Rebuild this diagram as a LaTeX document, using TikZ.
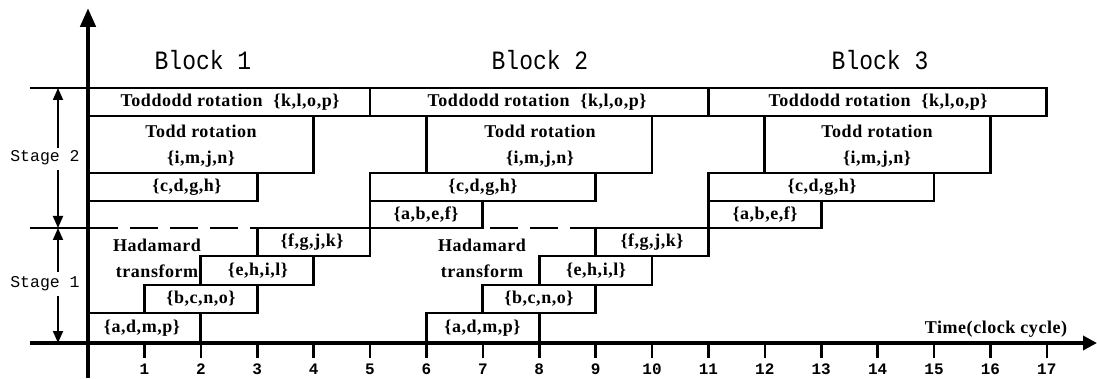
\documentclass[tikz,border=0pt]{standalone}
\usepackage{fontspec}
\setmainfont{Liberation Serif}
\newfontfamily\boxf{Liberation Serif}[LetterSpace=3]
\newfontfamily\monof{Liberation Mono}
\usetikzlibrary{arrows.meta}
\newcommand\tx[1]{(88+56.4*#1)}
\begin{document}
\begin{tikzpicture}[x=1pt,y=-1pt,
  box/.style={line width=2.8pt},
  thinline/.style={line width=2.4pt},
  dashline/.style={line width=2.6pt, dash pattern=on 28pt off 12pt},
  axis/.style={line width=4.5pt},
  tick/.style={line width=2.6pt},
  lbl/.style={inner sep=0pt, font=\boxf\bfseries\fontsize{18}{26}\selectfont, align=center},
  blk/.style={inner sep=0pt, font=\monof\fontsize{23}{23}\selectfont, yscale=1.15},
  stg/.style={inner sep=0pt, font=\monof\fontsize{16.5}{16.5}\selectfont},
  num/.style={inner sep=0pt, font=\monof\bfseries\fontsize{16}{16}\selectfont},
  sarr/.style={line width=1.8pt, -{Triangle[length=12pt,width=10pt]}}]
\useasboundingbox (0,0) rectangle (1097,379);

% guide lines
\draw[thinline] (30,88) -- ({\tx{0}},88);
\draw[thinline] (30,228) -- ({\tx{0}},228);
\draw[dashline] ({\tx{0}+2},228) -- ({\tx{11}},228);

% Block 1 - stage 2
\draw[box] ({\tx{0}},88) rectangle ({\tx{5}},116);
\draw[box] ({\tx{0}},116) rectangle ({\tx{4}},173);
\draw[box] ({\tx{0}},173) rectangle ({\tx{3}},201);
% Block 1 - stage 1
\draw[box] ({\tx{0}},313) rectangle ({\tx{2}},343);
\draw[box] ({\tx{1}},285) rectangle ({\tx{3}},313);
\draw[box] ({\tx{2}},256) rectangle ({\tx{4}},285);
\draw[box] ({\tx{3}},228) rectangle ({\tx{5}},256);

% Block 2 - stage 2
\draw[box] ({\tx{5}},88) rectangle ({\tx{11}},116);
\draw[box] ({\tx{6}},116) rectangle ({\tx{10}},173);
\draw[box] ({\tx{5}},173) rectangle ({\tx{9}},201);
\draw[box] ({\tx{5}},201) rectangle ({\tx{7}},228);
% Block 2 - stage 1
\draw[box] ({\tx{6}},313) rectangle ({\tx{8}},343);
\draw[box] ({\tx{7}},285) rectangle ({\tx{9}},313);
\draw[box] ({\tx{8}},256) rectangle ({\tx{10}},285);
\draw[box] ({\tx{9}},228) rectangle ({\tx{11}},256);

% Block 3 - stage 2
\draw[box] ({\tx{11}},88) rectangle ({\tx{17}},116);
\draw[box] ({\tx{12}},116) rectangle ({\tx{16}},173);
\draw[box] ({\tx{11}},173) rectangle ({\tx{15}},201);
\draw[box] ({\tx{11}},201) rectangle ({\tx{13}},228);

% labels block 1
\node[lbl] (t1) at (230,102) {Toddodd rotation\hspace{0.6em}\{k,l,o,p\}};
\node[lbl] (r1) at (201,146) {Todd rotation\\\{i,m,j,n\}};
\node[lbl] (c1) at (187,187) {\{c,d,g,h\}};
\node[lbl] (h1) at (157,258) {Hadamard\\transform};
\node[lbl] (a1) at (142,328) {\{a,d,m,p\}};
\node[lbl] (b1) at (201,299) {\{b,c,n,o\}};
\node[lbl] (e1) at (258,270.5) {\{e,h,i,l\}};
\node[lbl] (f1) at (312,242) {\{f,g,j,k\}};
% labels block 2
\node[lbl] (t2) at (537,102) {Toddodd rotation\hspace{0.6em}\{k,l,o,p\}};
\node[lbl] (r2) at (540,146) {Todd rotation\\\{i,m,j,n\}};
\node[lbl] (c2) at (483,187) {\{c,d,g,h\}};
\node[lbl] (ab2) at (426,214.5) {\{a,b,e,f\}};
\node[lbl] (h2) at (482,258) {Hadamard\\transform};
\node[lbl] (a2) at (482.5,328) {\{a,d,m,p\}};
\node[lbl] (b2) at (539,299) {\{b,c,n,o\}};
\node[lbl] (e2) at (596,270.5) {\{e,h,i,l\}};
\node[lbl] (f2) at (652,242) {\{f,g,j,k\}};
% labels block 3
\node[lbl] (t3) at (878,102) {Toddodd rotation\hspace{0.6em}\{k,l,o,p\}};
\node[lbl] (r3) at (877,146) {Todd rotation\\\{i,m,j,n\}};
\node[lbl] (c3) at (822,187) {\{c,d,g,h\}};
\node[lbl] (ab3) at (765,214.5) {\{a,b,e,f\}};

% block titles
\node[blk] (B1) at (203,60) {Block 1};
\node[blk] (B2) at (540,60) {Block 2};
\node[blk] (B3) at (880,60) {Block 3};

% stage brackets
\node[stg] (s2) at (45,158) {Stage 2};
\node[stg] (s1) at (45,284) {Stage 1};
\coordinate (s2top) at (58,88);
\coordinate (s2bot) at (58,228);
\coordinate (s1top) at (58,228);
\coordinate (s1bot) at (58,343);
\draw[sarr] (s2.north -| s2top) ++(0,-3) -- (s2top);
\draw[sarr] (s2.south -| s2bot) ++(0,5) -- (s2bot);
\draw[sarr] (s1.north -| s1top) ++(0,-5) -- (s1top);
\draw[sarr] (s1.south -| s1bot) ++(0,5) -- (s1bot);

% axes
\coordinate (xo) at (30,343);
\coordinate (xe) at (1097,343);
\coordinate (yo) at (88,378);
\coordinate (ye) at (88,8);
\draw[axis,-{Triangle[length=14pt,width=14pt]}] (xo) -- (xe);
\draw[axis,-{Triangle[length=19pt,width=15pt]}] (yo) -- (ye);

% ticks and numbers
\foreach \i in {1,...,17}{
  \draw[tick] ({\tx{\i}},343) -- ({\tx{\i}},358);
  \node[num] (n\i) at ({\tx{\i}},369) {\i};
}
\node[lbl, font=\boxf\bfseries\fontsize{18}{18}\selectfont] (time) at (996,329) {Time(clock cycle)};
\end{tikzpicture}
\end{document}
